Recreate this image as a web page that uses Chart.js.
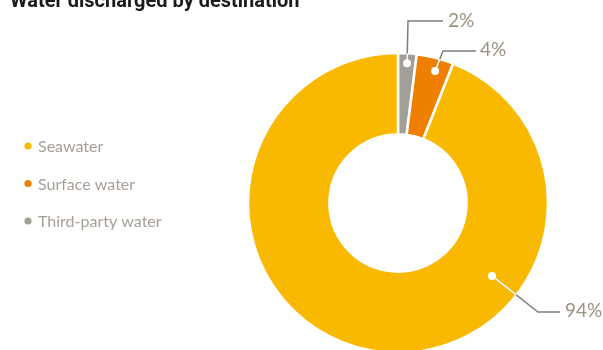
<!DOCTYPE html>
<html lang="en">
<head>
    <meta charset="UTF-8">
    <title>Water discharged by destination</title>
    <script src="https://cdn.jsdelivr.net/npm/chart.js"></script>
    <style>
        html, body { margin: 0; padding: 0; background: #fff; overflow: hidden; }
        .wrap { position: relative; width: 603px; height: 360px; }
    </style>
</head>
<body>
    <div class="wrap">
        <canvas id="waterChart" width="603" height="360"></canvas>
    </div>

    <script>
        // legend order (top to bottom)
        const categories = ['Seawater', 'Surface water', 'Third-party water'];
        const shares = [94, 4, 2];
        const colours = ['#F9B900', '#EE7F00', '#A29E98'];
        const chartTitle = 'Water discharged by destination';

        // callout placement for each slice, same order as categories
        const callouts = [
            { angle: 127.8, r: 119, elbow: [538, 312], end: 560, textX: 565, textY: 311 },
            { angle: 15.7, r: 137, elbow: [443, 51], end: 476, textX: 480, textY: 50 },
            { angle: 3.7, r: 140, elbow: [408, 21], end: 443, textX: 448, textY: 21 }
        ];

        // the ring is drawn clockwise from the top starting with the smallest slice
        const order = [2, 1, 0];

        const overlay = {
            id: 'overlay',
            afterDraw(chart) {
                const ctx = chart.ctx;
                const arc = chart.getDatasetMeta(0).data[0];
                const cx = arc.x, cy = arc.y, outer = arc.outerRadius;
                ctx.save();

                // title, partly cut by the top edge
                ctx.fillStyle = '#1b1b1b';
                ctx.font = 'bold 20px Roboto';
                ctx.textBaseline = 'alphabetic';
                ctx.fillText(chartTitle, 10, 7);

                // legend
                ctx.font = '16px Lato';
                ctx.textBaseline = 'middle';
                categories.forEach((c, i) => {
                    const y = 146 + i * 37.5;
                    ctx.fillStyle = colours[i];
                    ctx.beginPath();
                    ctx.arc(28, y, 3.6, 0, Math.PI * 2);
                    ctx.fill();
                    ctx.fillStyle = '#A69F94';
                    ctx.fillText(c, 38, y + 1);
                });

                // callouts
                categories.forEach((c, i) => {
                    const p = callouts[i];
                    const a = p.angle * Math.PI / 180;
                    const dx = cx + p.r * Math.sin(a);
                    const dy = cy - p.r * Math.cos(a);
                    const path = () => {
                        ctx.beginPath();
                        ctx.moveTo(dx, dy);
                        ctx.lineTo(p.elbow[0], p.elbow[1]);
                        ctx.lineTo(p.end, p.elbow[1]);
                    };
                    ctx.lineWidth = 1.5;
                    ctx.strokeStyle = '#7E7E7E';
                    path();
                    ctx.stroke();
                    // part of the leader inside the ring is white
                    ctx.save();
                    ctx.beginPath();
                    ctx.arc(cx, cy, outer, 0, Math.PI * 2);
                    ctx.clip();
                    ctx.strokeStyle = '#ffffff';
                    path();
                    ctx.stroke();
                    ctx.restore();

                    ctx.fillStyle = '#ffffff';
                    ctx.beginPath();
                    ctx.arc(dx, dy, 4, 0, Math.PI * 2);
                    ctx.fill();

                    ctx.fillStyle = '#9A9284';
                    ctx.font = '19px Lato';
                    ctx.textBaseline = 'middle';
                    ctx.fillText(shares[i] + '%', p.textX, p.textY);
                });
                ctx.restore();
            }
        };

        new Chart(document.getElementById('waterChart').getContext('2d'), {
            type: 'doughnut',
            data: {
                labels: order.map(i => categories[i]),
                datasets: [{
                    data: order.map(i => shares[i]),
                    backgroundColor: order.map(i => colours[i]),
                    borderColor: '#ffffff',
                    borderWidth: 2.5
                }]
            },
            options: {
                responsive: false,
                animation: false,
                radius: 150,
                cutout: 68,
                layout: { padding: { left: 248, right: 55, top: 53, bottom: 7 } },
                plugins: {
                    legend: { display: false },
                    tooltip: { enabled: false },
                    title: { display: false }
                }
            },
            plugins: [overlay]
        });
    </script>
</body>
</html>
